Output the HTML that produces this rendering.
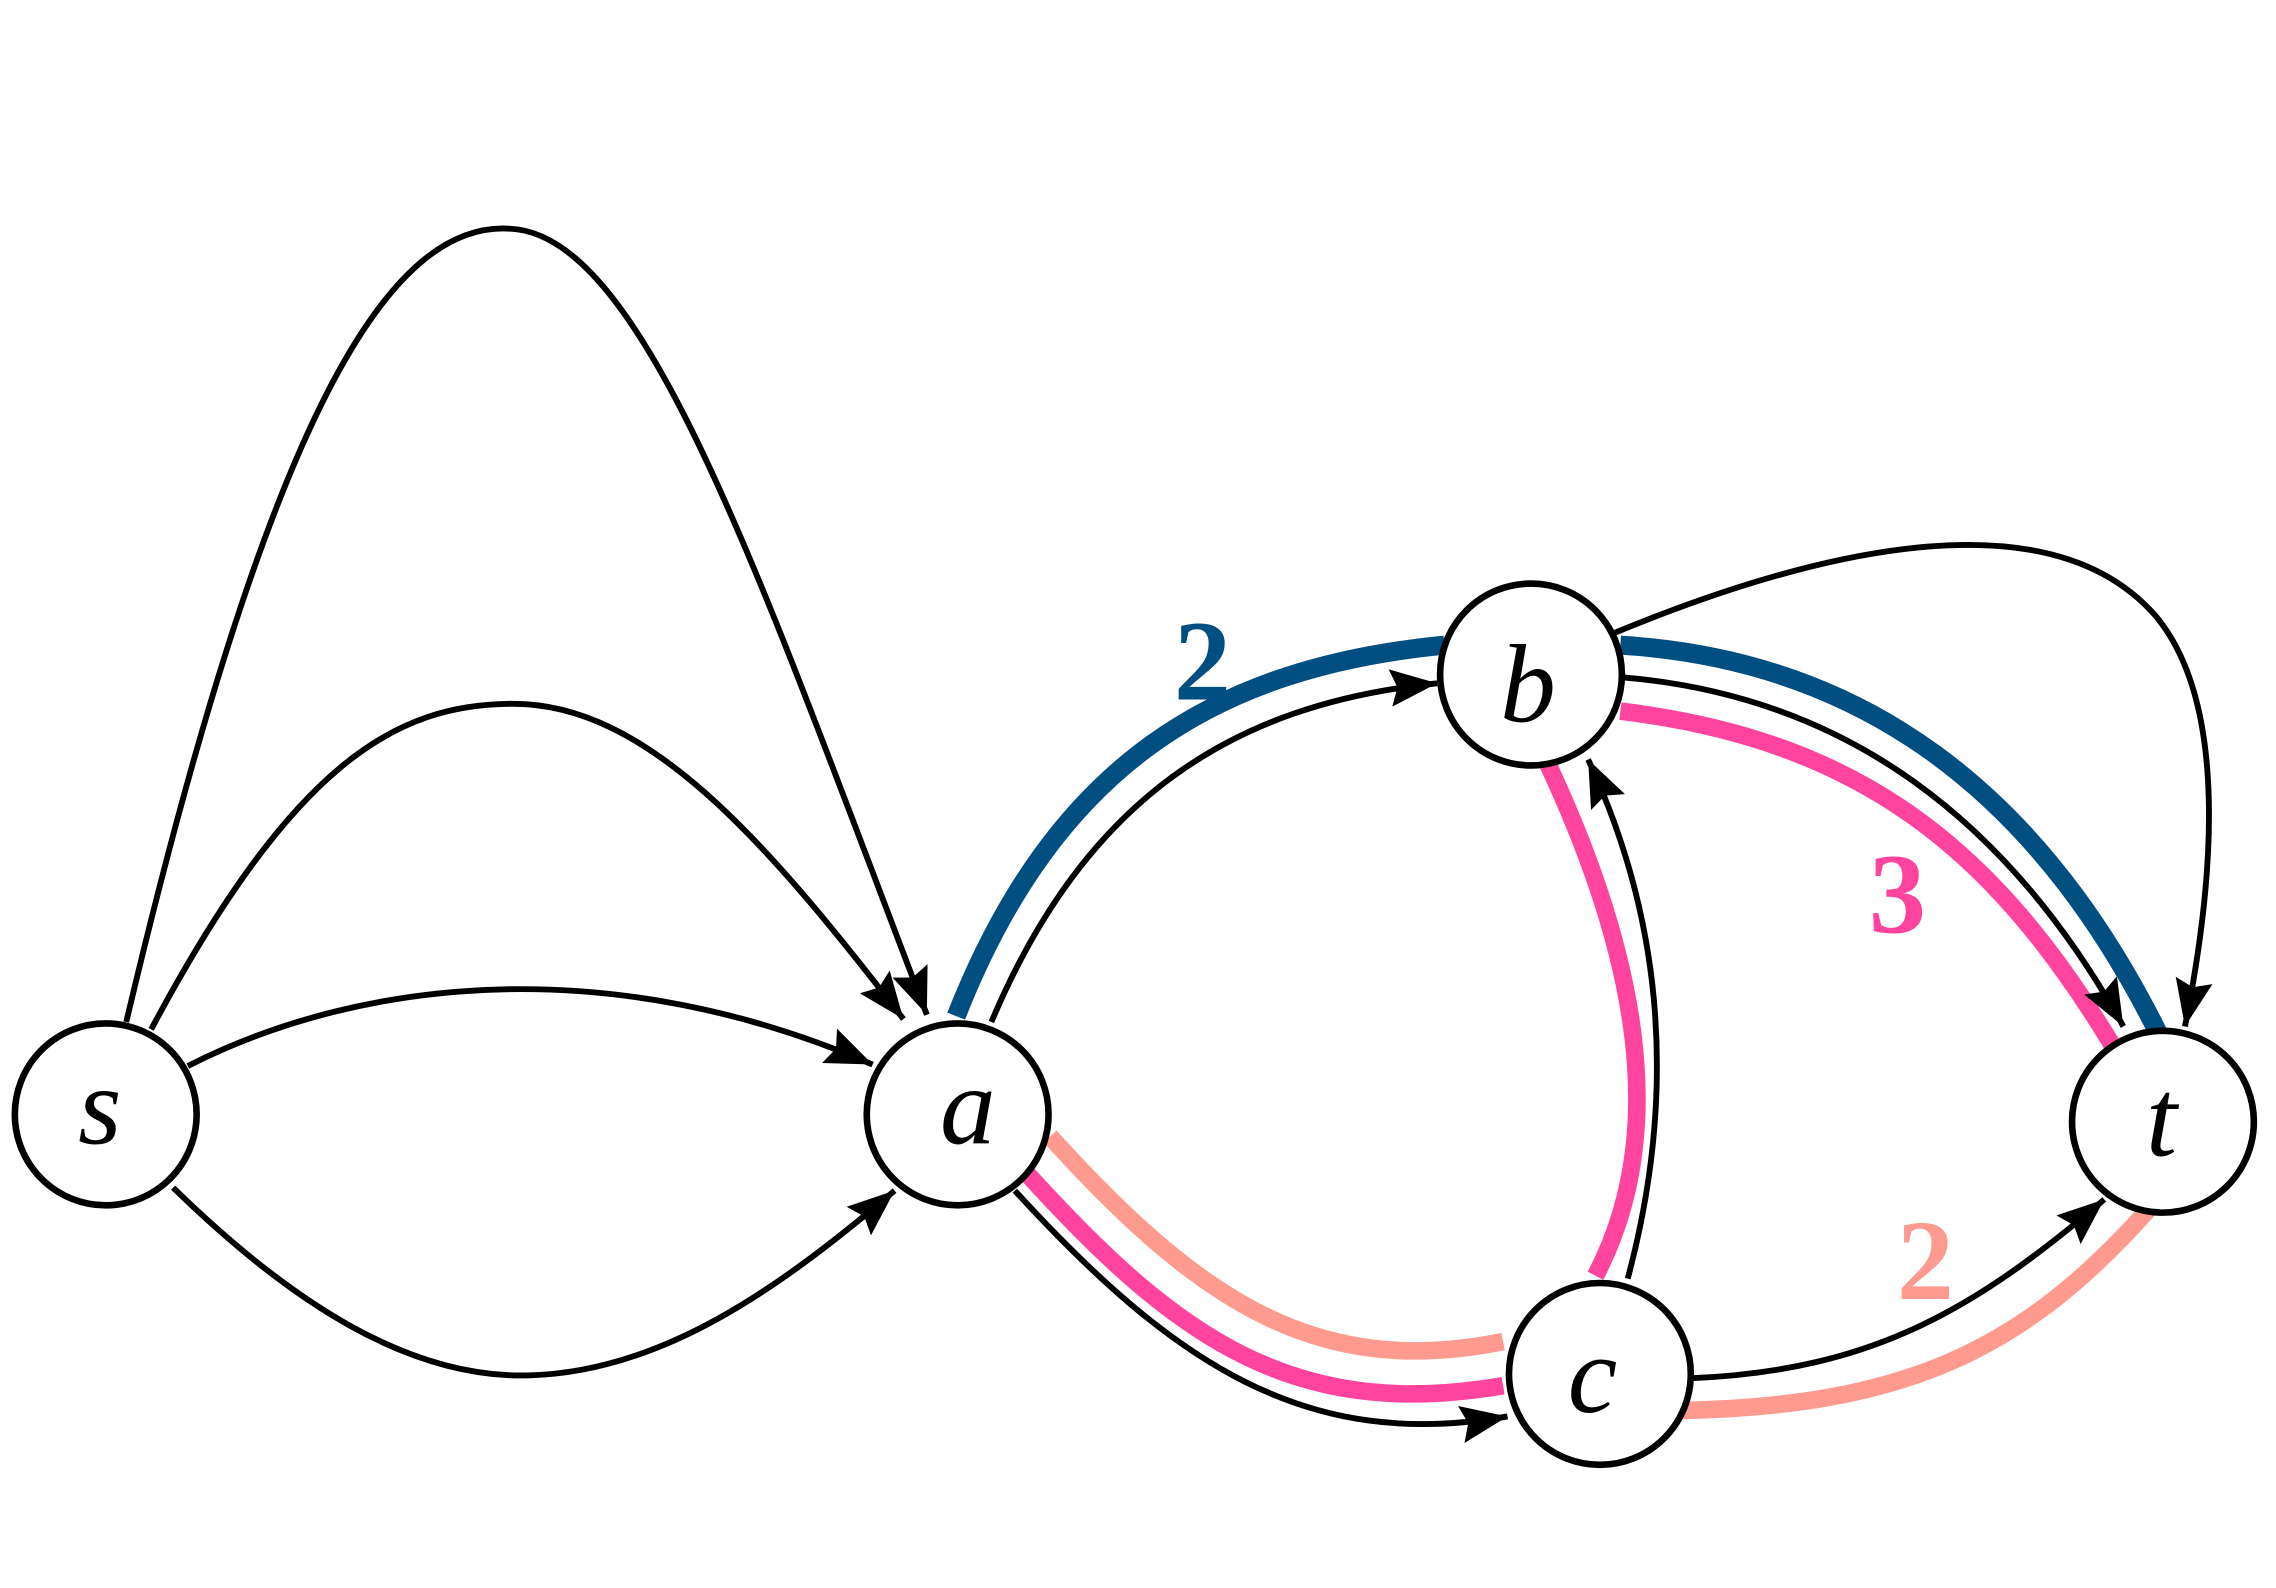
<!DOCTYPE html>
<html><head><meta charset="utf-8"><style>html,body{margin:0;padding:0;background:#fff}svg{display:block}
.n{font-family:"Liberation Serif","Times New Roman",Times,serif;font-style:italic;font-size:76px}
.l{font-family:"Liberation Serif","Times New Roman",Times,serif;font-weight:bold;font-size:78px}</style></head>
<body>
<svg width="2276" height="1588" viewBox="0 0 1552 1083" xmlns="http://www.w3.org/2000/svg">
<defs>
<marker id="ar" viewBox="0 0 10 8" refX="10" refY="4" markerWidth="8" markerHeight="6.4" markerUnits="strokeWidth" orient="auto">
<path d="M0,0 L10,4 L0,8 L1.5,4 z" fill="#000"/>
</marker>
</defs>
<g fill="none" stroke-linecap="butt">
<path d="M652,693 C720,520 830,455 985,440" stroke="#004f80" stroke-width="13"/>
<path d="M1105,440 C1270,450 1390,540 1472,705" stroke="#004f80" stroke-width="13"/>
<path d="M1105,485 C1270,505 1360,580 1440,712" stroke="#ff44a0" stroke-width="12"/>
<path d="M1055,520 C1130,680 1130,790 1088,870" stroke="#ff44a0" stroke-width="12"/>
<path d="M700,800 C800,910 880,970 1025,945" stroke="#ff44a0" stroke-width="12"/>
<path d="M716,775 C820,890 900,940 1025,915" stroke="#ff9a90" stroke-width="12"/>
<path d="M1140,962 C1300,960 1380,920 1465,825" stroke="#ff9a90" stroke-width="12"/>
<g stroke="#000" stroke-width="4">
<path d="M86,697 C180,300 260,150 348,156 C440,160 520,400 632,692" marker-end="url(#ar)"/>
<path d="M103,702 C200,520 270,480 350,480 C440,480 520,570 616,695" marker-end="url(#ar)"/>
<path d="M128,727 C250,665 420,650 595,726" marker-end="url(#ar)"/>
<path d="M118,810 C200,890 280,940 360,938 C450,936 530,880 610,812" marker-end="url(#ar)"/>
<path d="M676,697 C740,545 840,480 980,466" marker-end="url(#ar)"/>
<path d="M1107,462 C1260,475 1370,560 1448,700" marker-end="url(#ar)"/>
<path d="M1100,432 C1250,370 1400,340 1470,420 C1520,480 1510,600 1490,700" marker-end="url(#ar)"/>
<path d="M1110,872 C1140,760 1140,640 1083,518" marker-end="url(#ar)"/>
<path d="M692,812 C800,930 890,990 1028,966" marker-end="url(#ar)"/>
<path d="M1152,940 C1280,935 1350,890 1435,818" marker-end="url(#ar)"/>
</g>
</g>
<g fill="#fff" stroke="#000" stroke-width="4.5">
<circle cx="72" cy="760" r="62"/>
<circle cx="653" cy="760" r="62"/>
<circle cx="1044" cy="460" r="62"/>
<circle cx="1091" cy="937" r="62"/>
<circle cx="1475" cy="765" r="62"/>
</g>
<g class="n" text-anchor="middle">
<text x="68" y="780">s</text>
<text x="660" y="780">a</text>
<text x="1042" y="492">b</text>
<text x="1086" y="963">c</text>
<text x="1474" y="788">t</text>
</g>
<g class="l" text-anchor="middle">
<text x="820" y="477" fill="#004f80">2</text>
<text x="1294" y="636" fill="#ff44a0">3</text>
<text x="1313" y="886" fill="#ff9a90">2</text>
</g>
</svg>
</body></html>
